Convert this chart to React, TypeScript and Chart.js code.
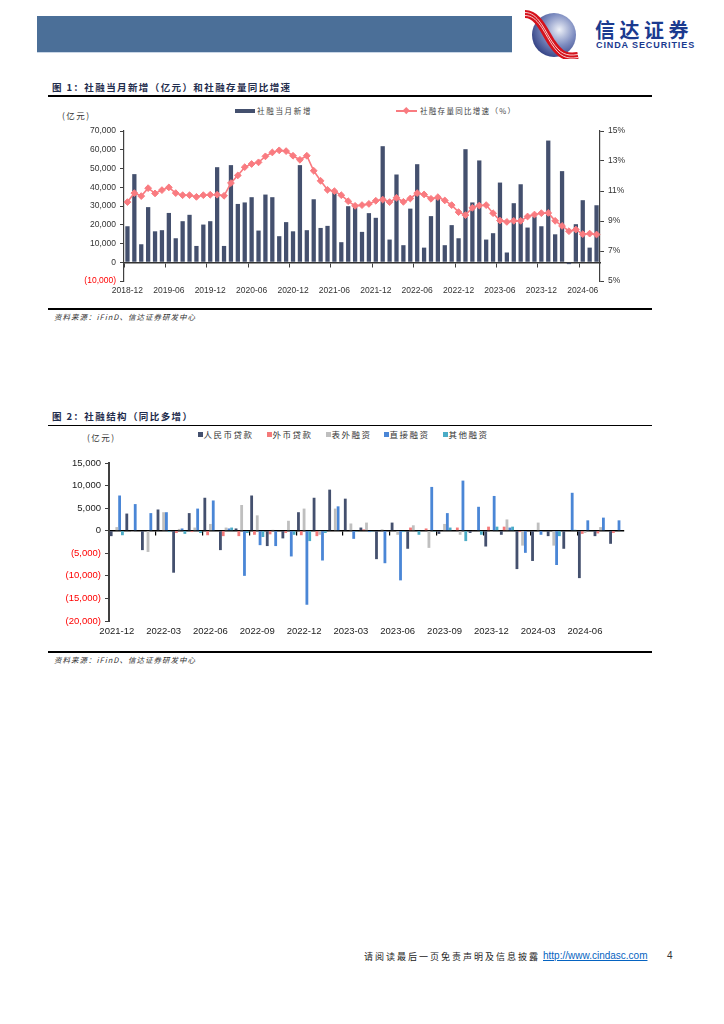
import React, { useEffect, useRef } from "react";
import { Chart, registerables } from "chart.js";

Chart.register(...registerables);

// ---------- Chart 1 data ----------
const months1 = [
  "2018-12",
  "2019-01", "2019-02", "2019-03", "2019-04", "2019-05", "2019-06", "2019-07", "2019-08", "2019-09", "2019-10", "2019-11", "2019-12",
  "2020-01", "2020-02", "2020-03", "2020-04", "2020-05", "2020-06", "2020-07", "2020-08", "2020-09", "2020-10", "2020-11", "2020-12",
  "2021-01", "2021-02", "2021-03", "2021-04", "2021-05", "2021-06", "2021-07", "2021-08", "2021-09", "2021-10", "2021-11", "2021-12",
  "2022-01", "2022-02", "2022-03", "2022-04", "2022-05", "2022-06", "2022-07", "2022-08", "2022-09", "2022-10", "2022-11", "2022-12",
  "2023-01", "2023-02", "2023-03", "2023-04", "2023-05", "2023-06", "2023-07", "2023-08", "2023-09", "2023-10", "2023-11", "2023-12",
  "2024-01", "2024-02", "2024-03", "2024-04", "2024-05", "2024-06", "2024-07", "2024-08",
];
const xTickLabels1 = ["2018-12", "2019-06", "2019-12", "2020-06", "2020-12", "2021-06", "2021-12", "2022-06", "2022-12", "2023-06", "2023-12", "2024-06"];

// 社融当月新增（亿元）
const tsfMonthly = [
  19200, 47000, 9600, 29400, 16500, 17100, 26300, 12800, 21900, 25300, 8700, 20100,
  21900, 50700, 8700, 51800, 31100, 31900, 34700, 16900, 36100, 34700, 13900, 21400,
  16500, 51800, 17100, 33600, 18300, 19400, 37500, 10700, 29900, 29400, 16200, 26200,
  23700, 61900, 12100, 46800, 9100, 28600, 52300, 7800, 24600, 34700, 9100, 19800,
  12800, 60300, 31900, 54300, 12100, 15500, 42500, 5200, 31500, 41600, 18500, 24400,
  19200, 64900, 14900, 48600, -1000, 20300, 33100, 7800, 30400,
];
// 社融存量同比增速（%）
const tsfGrowth = [
  10.26, 10.86, 10.66, 11.19, 10.84, 11.06, 11.24, 10.86, 10.72, 10.72, 10.61, 10.72,
  10.75, 10.75, 10.68, 11.53, 12.04, 12.59, 12.8, 12.91, 13.31, 13.57, 13.71, 13.66,
  13.35, 13.08, 13.35, 12.35, 11.68, 11.08, 10.99, 10.72, 10.32, 10.01, 10.06, 10.14,
  10.35, 10.43, 10.26, 10.55, 10.28, 10.5, 10.86, 10.77, 10.48, 10.59, 10.37, 10.06,
  9.59, 9.39, 9.88, 10.03, 10.06, 9.52, 9.03, 8.94, 9.01, 9.01, 9.3, 9.43,
  9.52, 9.54, 9.01, 8.67, 8.32, 8.43, 8.12, 8.16, 8.1,
];

// ---------- Chart 2 data ----------
const months2 = [
  "2021-12",
  "2022-01", "2022-02", "2022-03", "2022-04", "2022-05", "2022-06", "2022-07", "2022-08", "2022-09", "2022-10", "2022-11", "2022-12",
  "2023-01", "2023-02", "2023-03", "2023-04", "2023-05", "2023-06", "2023-07", "2023-08", "2023-09", "2023-10", "2023-11", "2023-12",
  "2024-01", "2024-02", "2024-03", "2024-04", "2024-05", "2024-06", "2024-07", "2024-08",
];
const xTickLabels2 = ["2021-12", "2022-03", "2022-06", "2022-09", "2022-12", "2023-03", "2023-06", "2023-09", "2023-12", "2024-03", "2024-06"];

const rmbLoans = [-1200, 3800, -4300, 4700, -9300, 3900, 7300, -4300, 500, 7800, -3400, -1700, 4100, 7300, 9100, 7100, 700, -6300, 1800, -4000, 0, -700, 0, -500, -3500, -900, -8500, -6700, -1200, -4000, -10500, -1200, -2900];
const fxLoans = [0, 0, 0, 0, -500, -300, -1000, -1200, -1200, -900, -800, -500, -1000, -1200, -100, 0, 300, 0, 0, 700, 500, 0, 700, 100, 900, 900, -300, 0, 0, -100, -700, -600, -500];
const offBalance = [800, -200, -4700, 4100, 400, 700, 1500, 700, 5700, 3400, 200, 2200, 4900, -900, 4900, 1600, 1800, 300, -900, 1200, -3800, 1500, -900, 100, -200, 2500, -3300, 1800, -3300, 0, -500, 800, -100];
const directFin = [7800, 5900, 3900, 4100, 500, 4900, 6700, 500, -10000, -3200, -3400, -5700, -16400, -6600, 5400, -1800, -300, -7200, -11000, -100, 9700, 3900, 11100, 5300, 7700, 700, -4900, -900, -7600, 8400, 2300, 2900, 2300];
const otherFin = [-1000, 0, 0, -300, -700, -500, 0, 700, -500, -1400, 0, -900, -2300, -500, 0, -200, -200, 0, -300, -900, -200, 700, -2300, -900, 900, 900, 0, 0, -1200, 200, -100, 0, -100];

// ---------- styles ----------
const NAVY = "#44506E";
const PINK = "#F97B80";
const RED_TXT = "#FF0000";
const SALMON = "#F47A7A";
const GRAY = "#BFBFBF";
const BLUE = "#4A86D6";
const TEAL = "#4BACC6";
const AXIS = "#404040";
const TXT = "#333333";
const CJK = '"Noto Sans CJK SC", "Noto Sans", sans-serif';
const LAT = '"Liberation Sans", Arial, sans-serif';

const fmtNum = (v: number) => {
  const s = Math.abs(v).toLocaleString("en-US");
  return v < 0 ? `(${s})` : s;
};

function makeChart1(canvas: HTMLCanvasElement) {
  return new Chart(canvas, {
    type: "bar",
    data: {
      labels: months1,
      datasets: [
        {
          type: "line",
          label: "社融存量同比增速（%）",
          data: tsfGrowth,
          xAxisID: "x",
          yAxisID: "y1",
          borderColor: PINK,
          backgroundColor: PINK,
          borderWidth: 1.6,
          pointStyle: "rectRot",
          pointRadius: 3.4,
          pointBorderWidth: 1,
          pointBorderColor: PINK,
          pointBackgroundColor: PINK,
          tension: 0,
          order: 0,
        } as any,
        {
          type: "bar",
          label: "社融当月新增",
          data: tsfMonthly,
          xAxisID: "x",
          yAxisID: "y",
          backgroundColor: NAVY,
          barPercentage: 0.62,
          categoryPercentage: 1,
          order: 1,
        },
      ],
    },
    options: {
      responsive: false,
      maintainAspectRatio: false,
      animation: false,
      layout: { padding: { top: 11, left: 0, right: 0, bottom: 0 } },
      plugins: { legend: { display: false }, tooltip: { enabled: false } },
      scales: {
        x: {
          type: "category",
          position: { y: 0 } as any,
          offset: true,
          grid: {
            offset: true,
            drawOnChartArea: false,
            tickLength: 4,
            lineWidth: 1,
            color: (ctx: any) => (ctx.index % 6 === 0 ? AXIS : "rgba(0,0,0,0)"),
          },
          border: { display: true, color: "#333", width: 1.5 },
          ticks: { display: false },
        },
        x2: {
          type: "category",
          position: "bottom",
          offset: true,
          grid: { display: false, drawTicks: false },
          border: { display: false },
          ticks: {
            autoSkip: false,
            maxRotation: 0,
            padding: 5,
            color: TXT,
            font: { family: LAT, size: 8.5 },
            callback: (_v: any, i: number) => (xTickLabels1.includes(months1[i]) ? months1[i] : ""),
          },
          afterFit: (s: any) => {
            s.height = 20;
          },
        },
        y: {
          position: "left",
          min: -10000,
          max: 70000,
          ticks: {
            stepSize: 10000,
            padding: 4,
            font: { family: LAT, size: 8.5 },
            color: (ctx: any) => (ctx.tick && ctx.tick.value < 0 ? RED_TXT : TXT),
            callback: (v: any) => fmtNum(Number(v)),
          },
          grid: { drawOnChartArea: false, tickLength: 4, color: AXIS },
          border: { display: true, color: AXIS, width: 1.2 },
          afterFit: (s: any) => {
            s.width = 84;
          },
        },
        y1: {
          position: "right",
          min: 5,
          max: 15,
          ticks: {
            stepSize: 2,
            padding: 4,
            font: { family: LAT, size: 8.5 },
            color: TXT,
            callback: (v: any) => `${v}%`,
          },
          grid: { drawOnChartArea: false, tickLength: 4, color: AXIS },
          border: { display: true, color: AXIS, width: 1.2 },
          afterFit: (s: any) => {
            s.width = 30;
          },
        },
      },
    },
  });
}

function makeChart2(canvas: HTMLCanvasElement) {
  const common = { xAxisID: "x", yAxisID: "y", categoryPercentage: 0.9, barPercentage: 1 };
  return new Chart(canvas, {
    type: "bar",
    data: {
      labels: months2,
      datasets: [
        { label: "人民币贷款", data: rmbLoans, backgroundColor: NAVY, ...common },
        { label: "外币贷款", data: fxLoans, backgroundColor: SALMON, ...common },
        { label: "表外融资", data: offBalance, backgroundColor: GRAY, ...common },
        { label: "直接融资", data: directFin, backgroundColor: BLUE, ...common },
        { label: "其他融资", data: otherFin, backgroundColor: TEAL, ...common },
      ],
    },
    options: {
      responsive: false,
      maintainAspectRatio: false,
      animation: false,
      layout: { padding: { top: 11, left: 0, right: 16, bottom: 0 } },
      plugins: { legend: { display: false }, tooltip: { enabled: false } },
      scales: {
        x: {
          type: "category",
          position: { y: 0 } as any,
          offset: true,
          grid: {
            offset: true,
            drawOnChartArea: false,
            tickLength: 4,
            lineWidth: 1.2,
            color: (ctx: any) => (ctx.index % 3 === 0 && ctx.index > 0 ? "#000" : "rgba(0,0,0,0)"),
          },
          border: { display: true, color: "#000", width: 1.5 },
          ticks: { display: false },
        },
        x2: {
          type: "category",
          position: "bottom",
          offset: true,
          grid: { display: false, drawTicks: false },
          border: { display: false },
          ticks: {
            autoSkip: false,
            maxRotation: 0,
            padding: 5,
            color: "#222",
            font: { family: LAT, size: 9.5 },
            callback: (_v: any, i: number) => (xTickLabels2.includes(months2[i]) ? months2[i] : ""),
          },
          afterFit: (s: any) => {
            s.height = 21;
          },
        },
        y: {
          position: "left",
          min: -20000,
          max: 15000,
          ticks: {
            stepSize: 5000,
            padding: 4,
            font: { family: LAT, size: 9.5 },
            color: (ctx: any) => (ctx.tick && ctx.tick.value < 0 ? RED_TXT : "#222"),
            callback: (v: any) => fmtNum(Number(v)),
          },
          grid: { drawOnChartArea: false, tickLength: 4, color: AXIS },
          border: { display: true, color: AXIS, width: 2 },
          afterFit: (s: any) => {
            s.width = 69;
          },
        },
      },
    },
  });
}

function ChartCanvas(props: { left: number; top: number; width: number; height: number; build: (c: HTMLCanvasElement) => Chart }) {
  const ref = useRef<HTMLCanvasElement | null>(null);
  const { left, top, width, height, build } = props;
  useEffect(() => {
    if (!ref.current) return;
    const chart = build(ref.current);
    return () => chart.destroy();
  }, []);
  return (
    <canvas
      ref={ref}
      width={width}
      height={height}
      style={{ position: "absolute", left, top, width, height }}
    />
  );
}

const abs = (left: number, top: number, extra: React.CSSProperties = {}): React.CSSProperties => ({
  position: "absolute",
  left,
  top,
  whiteSpace: "nowrap",
  ...extra,
});

function Text(props: { x: number; cy: number; size: number; children: React.ReactNode; style?: React.CSSProperties }) {
  const { x, cy, size, children, style } = props;
  return (
    <div style={abs(x, cy - size / 2, { fontSize: size, lineHeight: `${size}px`, fontFamily: CJK, color: TXT, ...style })}>
      {children}
    </div>
  );
}

function Rule(props: { y: number }) {
  return <div style={abs(48, props.y, { width: 604, height: 1.5, background: "#000" })} />;
}

function Logo() {
  return (
    <svg width={60} height={50} viewBox="0 0 60 50" style={abs(522, 9)}>
      <defs>
        <radialGradient id="lg" cx="0.62" cy="0.38" r="0.8">
          <stop offset="0" stopColor="#eef1f8" />
          <stop offset="0.45" stopColor="#7d8cc0" />
          <stop offset="1" stopColor="#15246c" />
        </radialGradient>
      </defs>
      <circle cx="32" cy="26" r="22" fill="url(#lg)" />
      <path d="M3 5 C 16 5, 22 22, 30 34 S 44 49, 56 47" stroke="#d5121c" strokeWidth="8" fill="none" />
      <path d="M3 3.5 C 16 3.5, 22 20.5, 30 32.5 S 44 47.5, 56 45.5" stroke="#fff" strokeWidth="0.8" fill="none" />
      <path d="M3 6.5 C 16 6.5, 22 23.5, 30 35.5 S 44 50.5, 56 48.5" stroke="#fff" strokeWidth="0.8" fill="none" />
    </svg>
  );
}

export default function App() {
  const legend2 = [
    { x: 198, label: "人民币贷款", color: NAVY },
    { x: 267, label: "外币贷款", color: SALMON },
    { x: 326, label: "表外融资", color: GRAY },
    { x: 384, label: "直接融资", color: BLUE },
    { x: 443, label: "其他融资", color: TEAL },
  ];
  const titleStyle: React.CSSProperties = { fontWeight: 700, color: "#1F2D4D", letterSpacing: 1.4 };
  const srcStyle: React.CSSProperties = { fontStyle: "italic", color: "#333", letterSpacing: 1 };
  return (
    <div style={{ position: "absolute", left: 0, top: 0, width: 724, height: 1024, background: "#fff", overflow: "hidden" }}>
      {/* header */}
      <div style={abs(37, 16, { width: 475, height: 36, background: "#4B6F98", borderBottom: "1px solid #c9d6e6" })} />
      <Logo />
      <div style={abs(595, 19, { fontSize: 20, lineHeight: "22px", fontWeight: 700, color: "#1A3A8F", fontFamily: CJK, letterSpacing: 4.5 })}>信达证券</div>
      <div style={abs(596, 40, { fontSize: 9, lineHeight: "10px", fontWeight: 700, color: "#1A3A8F", fontFamily: LAT, letterSpacing: 0.9 })}>CINDA SECURITIES</div>

      {/* chart 1 */}
      <Text x={52} cy={88} size={9.5} style={titleStyle}>图 1：社融当月新增（亿元）和社融存量同比增速</Text>
      <Rule y={95} />
      <Text x={62} cy={115} size={8.5} style={{ letterSpacing: 1.5 }}>(亿元)</Text>
      <div style={abs(235, 109.2, { width: 20, height: 3.5, background: NAVY })} />
      <Text x={257} cy={110.7} size={7.5} style={{ letterSpacing: 1.7, color: "#444" }}>社融当月新增</Text>
      <div style={abs(396, 110, { width: 21, height: 1.6, background: PINK })} />
      <div style={abs(403.5, 107.8, { width: 4.5, height: 4.5, background: PINK, transform: "rotate(45deg)" })} />
      <Text x={420} cy={110.7} size={7.5} style={{ letterSpacing: 1.3, color: "#444" }}>社融存量同比增速（%）</Text>
      <ChartCanvas left={40} top={120} width={590} height={181} build={makeChart1} />
      <Rule y={308} />
      <Text x={54} cy={317} size={7.5} style={srcStyle}>资料来源：iFinD、信达证券研发中心</Text>

      {/* chart 2 */}
      <Text x={52} cy={417} size={9.5} style={titleStyle}>图 2：社融结构（同比多增）</Text>
      <Rule y={424.5} />
      <Text x={87} cy={437} size={8.5} style={{ letterSpacing: 1.5 }}>(亿元)</Text>
      {legend2.map((it) => (
        <React.Fragment key={it.label}>
          <div style={abs(it.x, 432, { width: 4.5, height: 4.5, background: it.color })} />
          <Text x={it.x + 5.5} cy={434.5} size={8.5} style={{ letterSpacing: 1.5, color: "#333" }}>{it.label}</Text>
        </React.Fragment>
      ))}
      <ChartCanvas left={40} top={452} width={600} height={190} build={makeChart2} />
      <Rule y={651} />
      <Text x={54} cy={660} size={7.5} style={srcStyle}>资料来源：iFinD、信达证券研发中心</Text>

      {/* footer */}
      <Text x={364} cy={956} size={9} style={{ letterSpacing: 2, color: "#222" }}>请阅读最后一页免责声明及信息披露</Text>
      <div style={abs(543, 950, { fontSize: 10, lineHeight: "12px", fontFamily: LAT, color: "#0563C1", textDecoration: "underline" })}>http://www.cindasc.com</div>
      <div style={abs(667, 950, { fontSize: 10, lineHeight: "12px", fontFamily: LAT, color: "#333" })}>4</div>
    </div>
  );
}
